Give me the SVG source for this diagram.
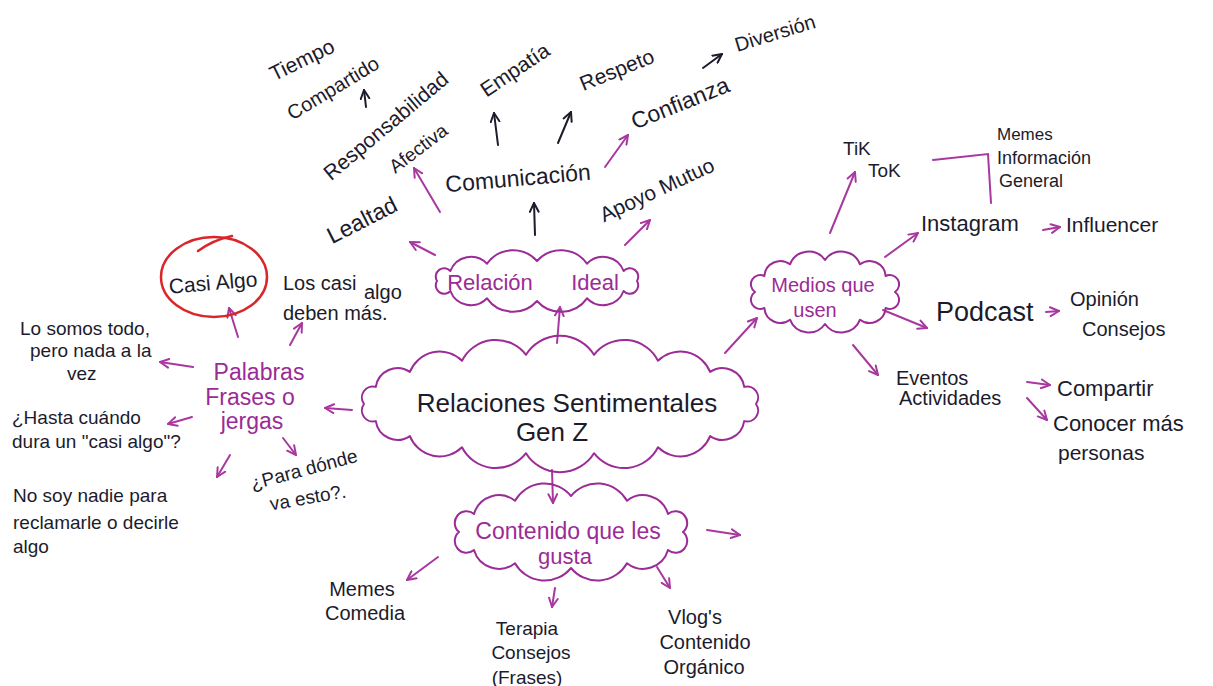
<svg xmlns="http://www.w3.org/2000/svg" width="1213" height="686" viewBox="0 0 1213 686">
  <defs>
    <style>
      .t { font-family: "Liberation Sans", "DejaVu Sans", sans-serif; fill: #1c1b2b; }
      .p { font-family: "Liberation Sans", "DejaVu Sans", sans-serif; fill: #9b2b96; }
      .m { text-anchor: middle; }
      .cloud { fill: none; stroke: #9b2b96; stroke-width: 2; stroke-linejoin: round; }
      .ab { fill: none; stroke: #1c1b2b; stroke-width: 2; stroke-linecap: round; marker-end: url(#hb); }
      .ap { fill: none; stroke: #a8389f; stroke-width: 2; stroke-linecap: round; marker-end: url(#hp); }
      .ln { fill: none; stroke: #a8389f; stroke-width: 2; stroke-linecap: round; }
    </style>
    <marker id="hb" viewBox="0 0 10 10" refX="9" refY="5" markerWidth="11" markerHeight="11" markerUnits="userSpaceOnUse" orient="auto">
      <path d="M1,1 L9,5 L1,9" fill="none" stroke="#1c1b2b" stroke-width="1.8" stroke-linecap="round" stroke-linejoin="round"/>
    </marker>
    <marker id="hp" viewBox="0 0 10 10" refX="9" refY="5" markerWidth="11" markerHeight="11" markerUnits="userSpaceOnUse" orient="auto">
      <path d="M1,1 L9,5 L1,9" fill="none" stroke="#a8389f" stroke-width="1.8" stroke-linecap="round" stroke-linejoin="round"/>
    </marker>
  </defs>
  <rect width="1213" height="686" fill="#ffffff"/>

  <g id="connectors">
    <line class="ab" x1="366" y1="107" x2="364" y2="90"/>
    <line class="ab" x1="498" y1="145" x2="494" y2="113"/>
    <line class="ab" x1="558" y1="143" x2="571" y2="112"/>
    <line class="ab" x1="703" y1="68" x2="722" y2="54"/>
    <line class="ab" x1="535" y1="235" x2="534" y2="203"/>
    <line class="ap" x1="440" y1="212" x2="414" y2="168"/>
    <line class="ap" x1="605" y1="167" x2="628" y2="135"/>
    <line class="ap" x1="625" y1="245" x2="650" y2="220"/>
    <line class="ap" x1="435" y1="255" x2="410" y2="242"/>
    <line class="ap" x1="557" y1="343" x2="560" y2="307"/>
    <line class="ap" x1="352" y1="410" x2="325" y2="408"/>
    <line class="ap" x1="238" y1="337" x2="229" y2="308"/>
    <line class="ap" x1="290" y1="345" x2="302" y2="323"/>
    <line class="ap" x1="193" y1="367" x2="160" y2="362"/>
    <line class="ap" x1="192" y1="417" x2="168" y2="424"/>
    <line class="ap" x1="230" y1="455" x2="217" y2="477"/>
    <line class="ap" x1="283" y1="438" x2="296" y2="455"/>
    <line class="ap" x1="725" y1="353" x2="757" y2="318"/>
    <line class="ap" x1="830" y1="233" x2="855" y2="172"/>
    <line class="ap" x1="885" y1="257" x2="918" y2="233"/>
    <line class="ap" x1="883" y1="310" x2="927" y2="328"/>
    <line class="ap" x1="853" y1="345" x2="878" y2="375"/>
    <line class="ap" x1="1043" y1="230" x2="1060" y2="227"/>
    <line class="ap" x1="1046" y1="312" x2="1059" y2="311"/>
    <line class="ap" x1="1027" y1="382" x2="1050" y2="385"/>
    <line class="ap" x1="1027" y1="398" x2="1047" y2="420"/>
    <line class="ap" x1="552" y1="470" x2="553" y2="503"/>
    <line class="ap" x1="438" y1="557" x2="407" y2="580"/>
    <line class="ap" x1="555" y1="588" x2="552" y2="607"/>
    <line class="ap" x1="657" y1="567" x2="670" y2="588"/>
    <line class="ap" x1="707" y1="530" x2="740" y2="535"/>
    <path class="ln" d="M933,160 L988,154 L991,203"/>
  </g>

  <g id="node-main">
    <path class="cloud" d="M364,404 A11,11 0 0 1 375.8,386.9 A22,22 0 0 1 409.9,371.9 A32,32 0 0 1 462,360.7 A38,38 0 0 1 526,354.8 A40,40 0 0 1 594,354.8 A38,38 0 0 1 658,360.7 A32,32 0 0 1 710.1,371.9 A22,22 0 0 1 744.2,386.9 A11,11 0 0 1 756,404 A11,11 0 0 1 744.2,421.1 A22,22 0 0 1 710.1,436.1 A32,32 0 0 1 658,447.3 A38,38 0 0 1 594,453.2 A40,40 0 0 1 526,453.2 A38,38 0 0 1 462,447.3 A32,32 0 0 1 409.9,436.1 A22,22 0 0 1 375.8,421.1 A11,11 0 0 1 364,404 Z"/>
    <text class="t m" x="567" y="412" font-size="26">Relaciones Sentimentales</text>
    <text class="t m" x="552" y="441" font-size="26">Gen Z</text>
  </g>

  <g id="node-relacion-ideal">
    <path class="cloud" d="M437,281 A8.4,8.4 0 0 1 450.4,271 A22,22 0 0 1 487,263.7 A32,32 0 0 1 537,261 A32,32 0 0 1 587,263.7 A22,22 0 0 1 623.6,271 A8.4,8.4 0 0 1 637,281 A8.4,8.4 0 0 1 623.6,291 A22,22 0 0 1 587,298.3 A32,32 0 0 1 537,301 A32,32 0 0 1 487,298.3 A22,22 0 0 1 450.4,291 A8.4,8.4 0 0 1 437,281 Z"/>
    <text class="p m" y="290" font-size="22"><tspan x="490">Relación</tspan><tspan x="595">Ideal</tspan></text>
  </g>

  <g id="node-tiempo"><text class="t m" font-size="21" transform="rotate(-26 302 60)" x="302" y="67">Tiempo</text>
    <text class="t m" font-size="20" transform="rotate(-31 333 88)" x="333" y="95">Compartido</text></g>
  <g id="node-responsabilidad"><text class="t m" font-size="21" transform="rotate(-40 386 126)" x="386" y="133">Responsabilidad</text>
    <text class="t m" font-size="19" transform="rotate(-37 418 148)" x="418" y="155">Afectiva</text></g>
  <g id="node-empatia"><text class="t m" font-size="21" transform="rotate(-34 515 70)" x="515" y="77">Empatía</text></g>
  <g id="node-respeto"><text class="t m" font-size="21" transform="rotate(-22 617 70)" x="617" y="77">Respeto</text></g>
  <g id="node-diversion"><text class="t m" font-size="20" transform="rotate(-17 775 33)" x="775" y="40">Diversión</text></g>
  <g id="node-confianza"><text class="t m" font-size="23" transform="rotate(-22 680 103)" x="680" y="111">Confianza</text></g>
  <g id="node-comunicacion"><text class="t m" font-size="23" transform="rotate(-5 518 178)" x="518" y="186">Comunicación</text></g>
  <g id="node-apoyo"><text class="t m" font-size="21" transform="rotate(-25 657 190)" x="657" y="197">Apoyo Mutuo</text></g>
  <g id="node-lealtad"><text class="t m" font-size="23" transform="rotate(-27 362 220)" x="362" y="228">Lealtad</text></g>

  <g id="node-casi-algo">
    <ellipse cx="214" cy="277" rx="53" ry="40" fill="none" stroke="#d8262a" stroke-width="2.5"/>
    <path d="M198,251 Q213,240 232,236" fill="none" stroke="#d8262a" stroke-width="2.5" stroke-linecap="round"/>
    <text class="t m" font-size="21" transform="rotate(-5 213 283)" x="213" y="290">Casi Algo</text>
  </g>
  <g id="node-palabras">
    <text class="p m" x="259" y="380" font-size="23">Palabras</text>
    <text class="p m" x="250" y="405" font-size="23">Frases o</text>
    <text class="p m" x="252" y="429" font-size="23">jergas</text>
  </g>
  <g id="node-los-casi">
    <text class="t" x="283" y="290" font-size="20">Los casi <tspan x="364" y="299">algo</tspan></text>
    <text class="t" x="283" y="320" font-size="20">deben más.</text>
  </g>
  <g id="node-lo-somos">
    <text class="t" x="20" y="335" font-size="19">Lo somos todo,</text>
    <text class="t" x="30" y="357" font-size="19">pero nada a la</text>
    <text class="t" x="67" y="380" font-size="19">vez</text>
  </g>
  <g id="node-hasta">
    <text class="t" x="12" y="424" font-size="19">¿Hasta cuándo</text>
    <text class="t" x="12" y="448" font-size="19">dura un "casi algo"?</text>
  </g>
  <g id="node-no-soy">
    <text class="t" x="13" y="502" font-size="19">No soy nadie para</text>
    <text class="t" x="13" y="529" font-size="19">reclamarle o decirle</text>
    <text class="t" x="13" y="553" font-size="19">algo</text>
  </g>
  <g id="node-para-donde">
    <text class="t m" font-size="19" transform="rotate(-15 304 470)" x="304" y="476">¿Para dónde</text>
    <text class="t m" font-size="19" transform="rotate(-10 308 498)" x="308" y="504">va esto?.</text>
  </g>

  <g id="node-medios">
    <path class="cloud" d="M755,292 A9.3,9.3 0 0 1 764.4,276 A16,16 0 0 1 790,264.3 A20,20 0 0 1 825,260 A20,20 0 0 1 860,264.3 A16,16 0 0 1 885.6,276 A9.3,9.3 0 0 1 895,292 A9.3,9.3 0 0 1 885.6,308 A16,16 0 0 1 860,319.7 A20,20 0 0 1 825,324 A20,20 0 0 1 790,319.7 A16,16 0 0 1 764.4,308 A9.3,9.3 0 0 1 755,292 Z"/>
    <text class="p m" x="823" y="292" font-size="20">Medios que</text>
    <text class="p m" x="815" y="317" font-size="20">usen</text>
  </g>
  <g id="node-tiktok">
    <text class="t" x="843" y="155" font-size="19">TiK</text>
    <text class="t" x="868" y="177" font-size="19">ToK</text>
  </g>
  <g id="node-memes-info">
    <text class="t" x="997" y="140" font-size="17">Memes</text>
    <text class="t" x="997" y="164" font-size="18">Información</text>
    <text class="t" x="999" y="187" font-size="18">General</text>
  </g>
  <g id="node-instagram"><text class="t" x="921" y="231" font-size="22">Instagram</text></g>
  <g id="node-influencer"><text class="t" x="1066" y="232" font-size="21">Influencer</text></g>
  <g id="node-podcast"><text class="t" x="936" y="321" font-size="27">Podcast</text></g>
  <g id="node-opinion">
    <text class="t" x="1070" y="306" font-size="20">Opinión</text>
    <text class="t" x="1082" y="336" font-size="20">Consejos</text>
  </g>
  <g id="node-eventos">
    <text class="t" x="896" y="385" font-size="20">Eventos</text>
    <text class="t" x="899" y="405" font-size="20">Actividades</text>
  </g>
  <g id="node-compartir"><text class="t" x="1057" y="396" font-size="22">Compartir</text></g>
  <g id="node-conocer">
    <text class="t" x="1053" y="431" font-size="22">Conocer más</text>
    <text class="t" x="1058" y="460" font-size="21">personas</text>
  </g>

  <g id="node-contenido">
    <path class="cloud" d="M459,532 A11.7,11.7 0 0 1 474,514 A26,26 0 0 1 515,500.8 A34,34 0 0 1 571,496 A34,34 0 0 1 627,500.8 A26,26 0 0 1 668,514 A11.7,11.7 0 0 1 683,532 A11.7,11.7 0 0 1 668,550 A26,26 0 0 1 627,563.2 A34,34 0 0 1 571,568 A34,34 0 0 1 515,563.2 A26,26 0 0 1 474,550 A11.7,11.7 0 0 1 459,532 Z"/>
    <text class="p m" x="568" y="539" font-size="23">Contenido que les</text>
    <text class="p m" x="565" y="564" font-size="22">gusta</text>
  </g>
  <g id="node-memes-comedia">
    <text class="t m" x="362" y="596" font-size="20">Memes</text>
    <text class="t m" x="365" y="620" font-size="20">Comedia</text>
  </g>
  <g id="node-terapia">
    <text class="t m" x="527" y="635" font-size="19">Terapia</text>
    <text class="t m" x="531" y="659" font-size="19">Consejos</text>
    <text class="t m" x="527" y="684" font-size="19">(Frases)</text>
  </g>
  <g id="node-vlogs">
    <text class="t m" x="695" y="624" font-size="20">Vlog's</text>
    <text class="t m" x="705" y="649" font-size="20">Contenido</text>
    <text class="t m" x="704" y="674" font-size="20">Orgánico</text>
  </g>
</svg>
